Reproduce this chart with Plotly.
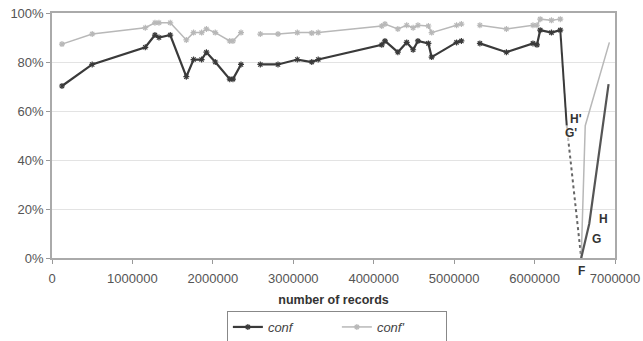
import plotly.graph_objects as go

# ---- data ----
records_a = [124000, 500000, 1160000, 1280000, 1330000, 1470000, 1670000, 1760000, 1860000,
             1920000, 2030000, 2210000, 2250000, 2350000]
conf_a = [70.2, 79, 86, 91, 90, 91, 74, 81, 81, 84, 80, 73, 73, 79]
confp_a = [87.3, 91.4, 94, 96, 96, 96, 89, 92, 92, 93.5, 92, 88.6, 88.6, 92]

records_b = [2590000, 2810000, 3050000, 3230000, 3310000, 4100000, 4140000, 4300000, 4410000,
             4490000, 4550000, 4680000, 4720000, 5030000, 5090000]
conf_b = [79, 79, 81, 80, 81, 87, 88.6, 84, 88, 85, 88.6, 87.6, 82, 88, 88.6]
confp_b = [91.4, 91.4, 92, 91.8, 92, 94.7, 95.5, 93.5, 95, 94, 95, 94.7, 92, 95, 95.5]

records_c = [5320000, 5650000, 5980000, 6030000, 6070000, 6210000, 6320000]
conf_c = [87.6, 84, 87.6, 87, 93, 92, 93]
confp_c = [95, 93.5, 95, 95, 97.5, 97, 97.5]

# final drop / recovery segment
drop_x = [6320000, 6400000]          # conf solid drop to G'
drop_y = [93, 54]
dotted_x = [6400000, 6580000]        # dotted G' -> F
dotted_y = [54, 0]
rec_x = [6580000, 6640000, 6680000, 6920000]   # F, G, H, end (conf)
rec_y = [0, 9, 14, 71]
recp_x = [6580000, 6630000, 6930000]           # F, H', end (conf')
recp_y = [0, 54, 88]

point_labels = ["F", "G", "H", "G'", "H'"]
label_x = [6580000, 6640000, 6680000, 6400000, 6630000]
label_y = [0, 9, 14, 54, 54]

dark = "#3a3a3a"
light = "#b8b8b8"

xd = records_a + [None] + records_b + [None] + records_c
yd = conf_a + [None] + conf_b + [None] + conf_c
yl = confp_a + [None] + confp_b + [None] + confp_c

fig = go.Figure()
fig.add_trace(go.Scatter(x=xd, y=yd, mode="lines+markers", name="<i>conf</i>",
                         line=dict(color=dark, width=2.2),
                         marker=dict(symbol="asterisk-open", size=5, color=dark,
                                     line=dict(color=dark, width=1.2)),
                         cliponaxis=False, connectgaps=False))
fig.add_trace(go.Scatter(x=xd, y=yl, mode="lines+markers", name="<i>conf'</i>",
                         line=dict(color=light, width=1.5),
                         marker=dict(symbol="asterisk-open", size=5, color=light,
                                     line=dict(color=light, width=1.2)),
                         cliponaxis=False, connectgaps=False))
fig.add_trace(go.Scatter(x=drop_x, y=drop_y, mode="lines", showlegend=False,
                         line=dict(color=dark, width=2), cliponaxis=False))
fig.add_trace(go.Scatter(x=dotted_x, y=dotted_y, mode="lines", showlegend=False,
                         line=dict(color="#666666", width=2, dash="dot"), cliponaxis=False))
fig.add_trace(go.Scatter(x=recp_x, y=recp_y, mode="lines", showlegend=False,
                         line=dict(color=light, width=1.5), cliponaxis=False))
fig.add_trace(go.Scatter(x=rec_x, y=rec_y, mode="lines", showlegend=False,
                         line=dict(color="#555555", width=2.2), cliponaxis=False))

offsets = {"F": (0, -13), "G": (10, -3), "H": (14, 5), "G'": (4, -7), "H'": (-9, 7)}
for t, lx, ly in zip(point_labels, label_x, label_y):
    dx, dy = offsets[t]
    fig.add_annotation(x=lx, y=ly, text="<b>" + t + "</b>", showarrow=False,
                       xshift=dx, yshift=dy, bgcolor="rgba(255,255,255,0.6)",
                       borderpad=0,
                       font=dict(size=12, color="#333333", family="Liberation Sans"))

fig.update_layout(
    width=643, height=341,
    margin=dict(l=52, r=28, t=13, b=83, autoexpand=False),
    paper_bgcolor="white", plot_bgcolor="white",
    font=dict(family="Liberation Sans", size=13, color="#444444"),
    xaxis=dict(range=[0, 7000000], dtick=1000000, tickformat="d",
               showgrid=False, zeroline=False,
               showline=True, linecolor="#aaaaaa", linewidth=1.5, mirror=True,
               ticks="outside", ticklen=4, tickcolor="#999999",
               ticklabelstandoff=4,
               tickfont=dict(size=13, color="#555555"),
               title=dict(text="<b>number of records</b>", font=dict(size=12.5, color="#333333"),
                          standoff=10)),
    yaxis=dict(range=[0, 100], dtick=20, ticksuffix="%",
               showgrid=True, gridcolor="#e3e3e3", gridwidth=1, zeroline=False,
               showline=True, linecolor="#aaaaaa", linewidth=1.5, mirror=True,
               ticks="outside", ticklen=4, tickcolor="#999999",
               tickfont=dict(size=13, color="#555555")),
    legend=dict(orientation="h", x=0.506, xanchor="center", xref="paper",
                y=0.088, yanchor="top", yref="container",
                bordercolor="#888888", borderwidth=1, bgcolor="white",
                entrywidth=64, entrywidthmode="pixels", itemwidth=30,
                font=dict(size=13, color="#444444")),
)

fig.write_html("out.html", config={"displayModeBar": False},
               post_script="document.body.style.margin='0px';")
